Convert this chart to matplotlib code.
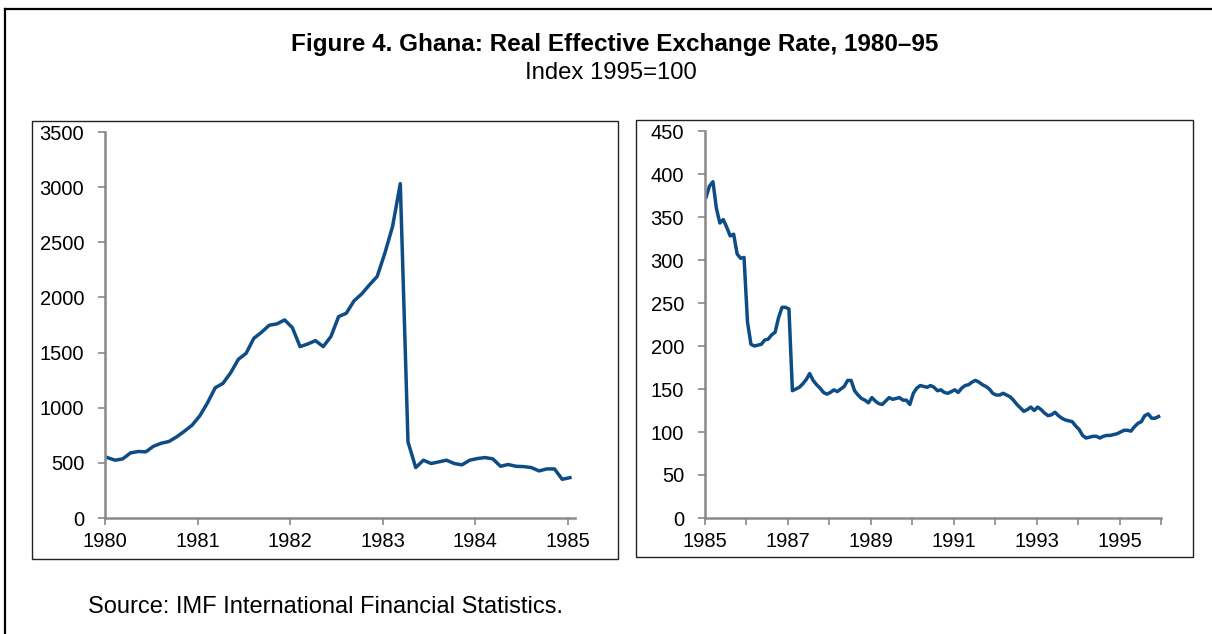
import matplotlib
matplotlib.use("Agg")
import matplotlib.pyplot as plt
from matplotlib.patches import Rectangle
from matplotlib.lines import Line2D
import numpy as np

plt.rcParams['font.family'] = ['Liberation Sans', 'DejaVu Sans']

# ---- Data (monthly index, 1995=100) ----
reer_1980_84 = [548, 524, 536, 590, 603, 600, 651, 678, 694, 736, 787, 842,
                927, 1045, 1181, 1221, 1317, 1439, 1493, 1629, 1684, 1748, 1760, 1796,
                1726, 1554, 1578, 1608, 1554, 1645, 1826, 1857, 1969, 2032, 2114, 2190,
                2402, 2644, 3032, 690, 457, 524, 494, 509, 524, 494, 482, 524,
                539, 548, 536, 469, 485, 469, 466, 457, 427, 445, 445, 351,
                366]
reer_1985_95 = [373, 386, 391, 360, 343, 347, 338, 328, 330, 307, 302, 303,
                228, 202, 200, 201, 202, 207, 208, 213, 216, 233, 245, 245,
                243, 148, 150, 152, 156, 161, 168, 160, 155, 151, 146, 144,
                146, 149, 147, 150, 153, 160, 160, 148, 143, 139, 137, 134,
                140, 136, 133, 132, 136, 140, 138, 139, 140, 137, 137, 132,
                145, 151, 154, 153, 152, 154, 152, 148, 149, 146, 145, 147,
                149, 146, 151, 154, 155, 158, 160, 158, 155, 153, 150, 145,
                143, 143, 145, 143, 141, 137, 132, 128, 124, 126, 129, 125,
                129, 126, 122, 119, 120, 123, 119, 116, 114, 113, 112, 107,
                103, 96, 93, 94, 95, 95, 93, 95, 96, 96, 97, 98,
                100, 102, 102, 101, 106, 110, 112, 119, 121, 116, 116, 118]

left_xticks = [1980, 1981, 1982, 1983, 1984, 1985]
left_yticks = [0, 500, 1000, 1500, 2000, 2500, 3000, 3500]
right_xticks = list(range(1985, 1997))
right_xlabels = ['1985', '', '1987', '', '1989', '', '1991', '', '1993', '', '1995', '']
right_yticks = [0, 50, 100, 150, 200, 250, 300, 350, 400, 450]

title = "Figure 4. Ghana: Real Effective Exchange Rate, 1980\u201395"
subtitle = "Index 1995=100"
source = "Source: IMF International Financial Statistics."

line_color = '#0E4C86'
axis_gray = '#898989'

W, H = 1212, 634
fig = plt.figure(figsize=(W / 100, H / 100), dpi=100)

def fx(px):
    return px / W

def fy(py):
    return 1 - py / H

# outer frame (left and top lines)
fig.add_artist(Line2D([fx(5), fx(5)], [fy(9), 0], color='black', lw=1.6, transform=fig.transFigure))
fig.add_artist(Line2D([fx(5), 1], [fy(9), fy(9)], color='black', lw=1.6, transform=fig.transFigure))

# panel boxes
fig.add_artist(Rectangle((fx(32), fy(559)), fx(618 - 32), (559 - 121) / H, fill=False,
                         edgecolor='#222222', lw=1.0, transform=fig.transFigure))
fig.add_artist(Rectangle((fx(636), fy(557)), fx(1193 - 636), (557 - 120) / H, fill=False,
                         edgecolor='#222222', lw=1.0, transform=fig.transFigure))

fig.text(fx(615), fy(45), title, ha='center', va='center', fontsize=17.5, fontweight='bold')
fig.text(fx(611), fy(73), subtitle, ha='center', va='center', fontsize=17.2)
fig.text(fx(88), fy(607), source, ha='left', va='center', fontsize=17)


def style_axes(ax):
    for s in ['top', 'right']:
        ax.spines[s].set_visible(False)
    for s in ['left', 'bottom']:
        ax.spines[s].set_color(axis_gray)
        ax.spines[s].set_linewidth(1.8)
    ax.tick_params(axis='both', direction='out', length=5, width=1.2, color=axis_gray,
                   labelsize=14.5, labelcolor='black')
    ax.tick_params(axis='y', pad=10)
    ax.tick_params(axis='x', pad=5)


# left panel
axL = fig.add_axes([fx(105), fy(518), fx(575 - 105), (518 - 132) / H])
xL = 1980 + (np.arange(len(reer_1980_84)) + 0.3) / 12
axL.plot(xL, reer_1980_84, color=line_color, lw=2.5, solid_joinstyle='round')
axL.set_xlim(1980, 1985.08)
axL.set_ylim(0, 3500)
axL.set_xticks(left_xticks)
axL.set_xticklabels([str(t) for t in left_xticks])
axL.set_yticks(left_yticks)
style_axes(axL)

# right panel
axR = fig.add_axes([fx(705), fy(518), fx(1161 - 705), (518 - 131) / H])
xR = 1985 + (np.arange(len(reer_1985_95)) + 0.3) / 12
axR.plot(xR, reer_1985_95, color=line_color, lw=2.5, solid_joinstyle='round')
axR.set_xlim(1985, 1996)
axR.set_ylim(0, 450)
axR.set_xticks(right_xticks)
axR.set_xticklabels(right_xlabels)
axR.set_yticks(right_yticks)
style_axes(axR)

fig.savefig('out.png', dpi=100)
